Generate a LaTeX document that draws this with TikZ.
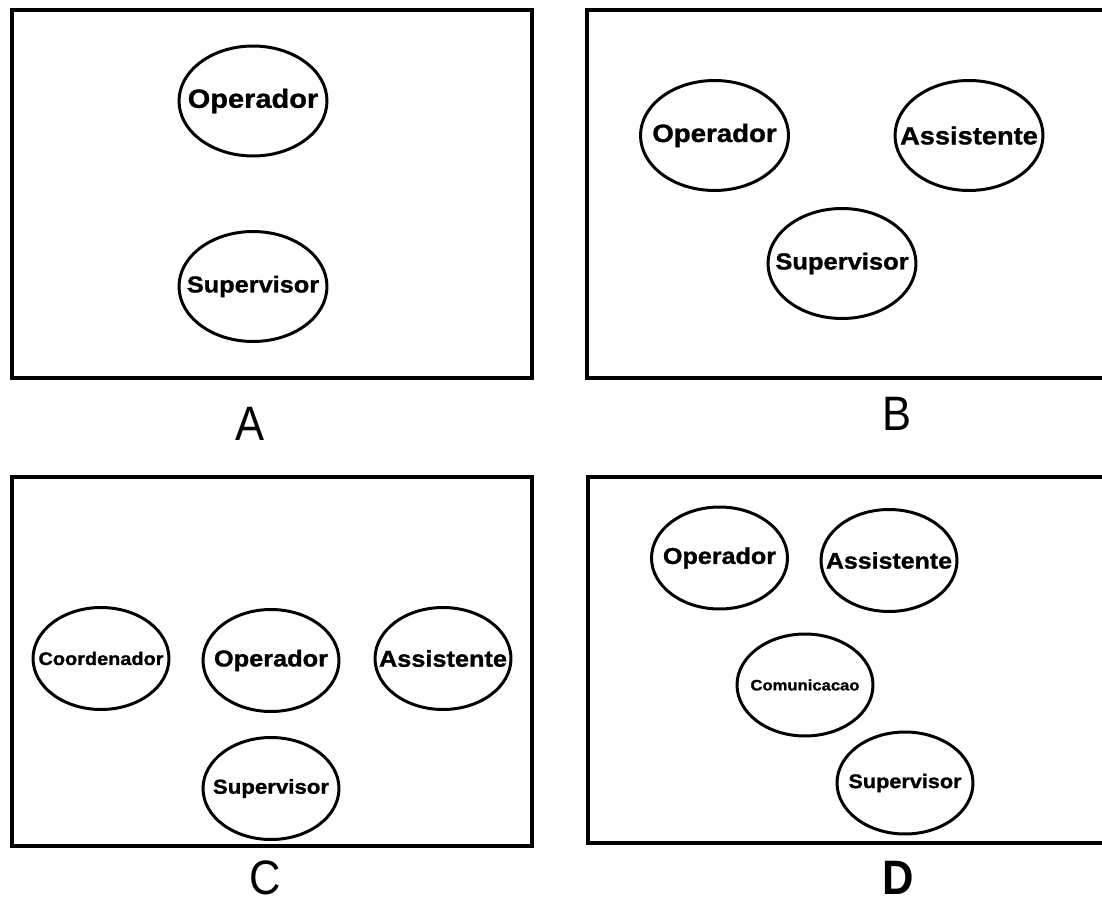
\documentclass[tikz,border=0pt]{standalone}
\usepackage{fontspec}
\setsansfont[FakeStretch=1.1, BoldFeatures={FakeBold=1.2}]{Liberation Sans}
\newfontfamily\letrafont[FakeStretch=0.9]{Liberation Sans}
\usetikzlibrary{shapes.geometric}
\newcommand{\nm}[1]{\makebox[0pt]{\raisebox{-0.12em}{#1}}}

\begin{document}
\begin{tikzpicture}[x=0.02cm, y=-0.02cm]
	\tikzset{
		painel/.style={line width=2pt},
		papel/.style={ellipse, draw, line width=1.7pt, inner sep=0pt},
		grande/.style={papel, minimum width=2.96cm, minimum height=2.2cm},
		medio/.style={papel, minimum width=2.72cm, minimum height=2.04cm},
		corpo/.style={font=\sffamily\bfseries\fontsize{#1}{#1}\selectfont},
		letra/.style={inner sep=0pt, font=\letrafont\fontsize{27.5}{27.5}\selectfont}
	}
	\useasboundingbox (0,0) rectangle (1102,902);
	% molduras
	\draw[painel] (12,10) rectangle (532,378);
	\draw[painel] (1102,10) -| (587,378) -- (1102,378);
	\draw[painel] (12,477) rectangle (532,846);
	\draw[painel] (1102,477) -| (588,843) -- (1102,843);
	% A
	\node[grande, corpo=15] (opA) at (253,101) {\nm{Operador}};
	\node[grande, corpo=13.1] (supA) at (253,286.5) {\nm{Supervisor}};
	\node[letra] (lA) at (250,424) {A};
	% B
	\node[grande, corpo=14.3] (opB) at (714.5,135.5) {\nm{Operador}};
	\node[grande, corpo=14.1] (asB) at (969,135.5) {\nm{Assistente}};
	\node[grande, corpo=13.2] (supB) at (842,263.5) {\nm{Supervisor}};
	\node[letra] (lB) at (897,414) {B};
	% C
	\node[medio, corpo=10.3] (coC) at (101,658.5) {\nm{Coordenador}};
	\node[medio, corpo=13.1] (opC) at (271,660.5) {\nm{Operador}};
	\node[medio, corpo=13.1] (asC) at (443,658.5) {\nm{Assistente}};
	\node[medio, corpo=11.5] (supC) at (271,788.5) {\nm{Supervisor}};
	\node[letra] (lC) at (265,878) {C};
	% D
	\node[medio, corpo=13] (opD) at (719.5,558) {\nm{Operador}};
	\node[medio, corpo=12.9] (asD) at (889,560.5) {\nm{Assistente}};
	\node[medio, corpo=8.6] (coD) at (805,685) {\nm{Comunicacao}};
	\node[medio, corpo=11.2] (supD) at (905,783) {\nm{Supervisor}};
	\node[letra, font=\letrafont\bfseries\fontsize{27.5}{27.5}\selectfont] (lD) at (898,878) {D};
\end{tikzpicture}
\end{document}
